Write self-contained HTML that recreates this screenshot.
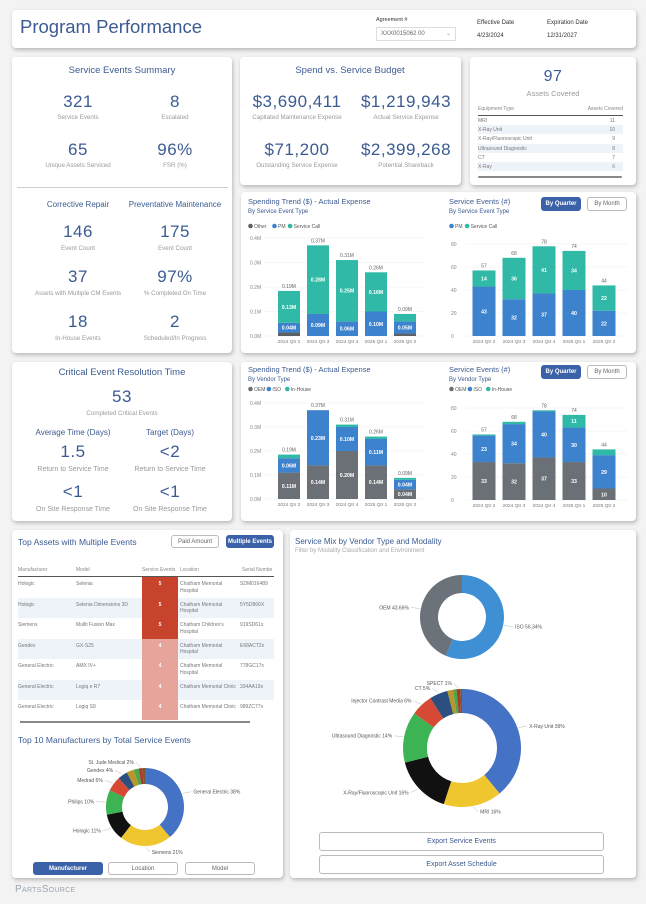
<!DOCTYPE html>
<html><head><meta charset="utf-8"><style>
*{box-sizing:border-box;margin:0;padding:0}
body{width:646px;height:904px;background:#f3f3f3;font-family:"Liberation Sans",sans-serif;position:relative;overflow:hidden;color:#555}
.card{position:absolute;background:#fff;border-radius:4px;box-shadow:1px 2px 4px rgba(0,0,0,.25)}
.t{position:absolute;white-space:nowrap}
.c{transform:translateX(-50%);text-align:center}
.big{font-size:17px;color:#3b5b92;letter-spacing:.5px}
.lbl{font-size:6.2px;color:#9a9a9a}
.hd{font-size:9.5px;color:#3b5b92}
.sub{font-size:8px;color:#3b5b92}
.btn{position:absolute;border:1px solid #bbb;border-radius:3px;font-size:6px;text-align:center;background:#fff;color:#666}
.btn.on{background:#3b62a8;color:#fff;border-color:#3b62a8;font-weight:bold}
svg{position:absolute;left:0;top:0}
.row span{display:block;flex:none;overflow:hidden;white-space:normal;line-height:6.5px}
</style></head><body>
<div class="card" style="left:12px;top:10px;width:624px;height:38px"></div>
<div class="t" style="left:20px;top:16px;font-size:18.5px;color:#3b5b92">Program Performance</div>
<div class="t" style="left:376px;top:17px;font-size:5.5px;color:#333">Agreement #</div>
<div style="position:absolute;left:376px;top:27px;width:80px;height:14px;border:1px solid #ddd;font-size:6px;color:#666;padding:3px 0 0 4px">XXX0015062 00<span style="position:absolute;right:4px;top:2px;color:#999">⌄</span></div>
<div class="t" style="left:477px;top:20px;font-size:6px;color:#333">Effective Date</div>
<div class="t" style="left:477px;top:33px;font-size:6px;color:#333">4/23/2024</div>
<div class="t" style="left:547px;top:20px;font-size:6px;color:#333">Expiration Date</div>
<div class="t" style="left:547px;top:33px;font-size:6px;color:#333">12/31/2027</div>

<div class="card" style="left:12px;top:57px;width:220px;height:296px"></div>
<div class="t c hd" style="left:122px;top:65px">Service Events Summary</div>
<div class="t c big" style="left:78px;top:92px">321</div>
<div class="t c lbl" style="left:78px;top:114px">Service Events</div>
<div class="t c big" style="left:175px;top:92px">8</div>
<div class="t c lbl" style="left:175px;top:114px">Escalated</div>
<div class="t c big" style="left:78px;top:140px">65</div>
<div class="t c lbl" style="left:78px;top:162px">Unique Assets Serviced</div>
<div class="t c big" style="left:175px;top:140px">96%</div>
<div class="t c lbl" style="left:175px;top:162px">FSR (%)</div>
<div style="position:absolute;left:17px;top:187px;width:211px;height:1px;background:#ccc"></div>
<div class="t c sub" style="left:78px;top:200px">Corrective Repair</div>
<div class="t c sub" style="left:175px;top:200px">Preventative Maintenance</div>
<div class="t c big" style="left:78px;top:222px">146</div>
<div class="t c lbl" style="left:78px;top:245px">Event Count</div>
<div class="t c big" style="left:175px;top:222px">175</div>
<div class="t c lbl" style="left:175px;top:245px">Event Count</div>
<div class="t c big" style="left:78px;top:267px">37</div>
<div class="t c lbl" style="left:78px;top:290px">Assets with Multiple CM Events</div>
<div class="t c big" style="left:175px;top:267px">97%</div>
<div class="t c lbl" style="left:175px;top:290px">% Completed On Time</div>
<div class="t c big" style="left:78px;top:312px">18</div>
<div class="t c lbl" style="left:78px;top:335px">In-House Events</div>
<div class="t c big" style="left:175px;top:312px">2</div>
<div class="t c lbl" style="left:175px;top:335px">Scheduled/In Progress</div>

<div class="card" style="left:240px;top:57px;width:221px;height:128px"></div>
<div class="t c hd" style="left:350px;top:65px">Spend vs. Service Budget</div>
<div class="t c big" style="left:297px;top:92px">$3,690,411</div>
<div class="t c lbl" style="left:297px;top:114px">Capitated Maintenance Expense</div>
<div class="t c big" style="left:406px;top:92px">$1,219,943</div>
<div class="t c lbl" style="left:406px;top:114px">Actual Service Expense</div>
<div class="t c big" style="left:297px;top:140px">$71,200</div>
<div class="t c lbl" style="left:297px;top:162px">Outstanding Service Expense</div>
<div class="t c big" style="left:406px;top:140px">$2,399,268</div>
<div class="t c lbl" style="left:406px;top:162px">Potential Shareback</div>

<div class="card" style="left:470px;top:57px;width:166px;height:128px"></div>
<div class="t c big" style="left:553px;top:68px;font-size:16px">97</div>
<div class="t c" style="left:553px;top:89px;font-size:7.5px;color:#999">Assets Covered</div>
<div id="assetTable" style="position:absolute;left:478px;top:106px;width:145px"></div>
<div style="position:absolute;left:478px;top:176px;width:144px;height:2px;background:#888;border-radius:1px"></div>

<div class="card" style="left:241px;top:192px;width:395px;height:161px"></div>
<div class="card" style="left:241px;top:362px;width:395px;height:159px"></div>
<div class="card" style="left:12px;top:362px;width:220px;height:159px"></div>
<div class="t c hd" style="left:122px;top:367px">Critical Event Resolution Time</div>
<div class="t c big" style="left:122px;top:387px">53</div>
<div class="t c lbl" style="left:122px;top:410px">Completed Critical Events</div>
<div class="t c sub" style="left:73px;top:428px">Average Time (Days)</div>
<div class="t c sub" style="left:170px;top:428px">Target (Days)</div>
<div class="t c big" style="left:73px;top:442px">1.5</div>
<div class="t c" style="left:73px;top:466px;font-size:7px;color:#999">Return to Service Time</div>
<div class="t c big" style="left:170px;top:442px">&lt;2</div>
<div class="t c" style="left:170px;top:466px;font-size:7px;color:#999">Return to Service Time</div>
<div class="t c big" style="left:73px;top:482px">&lt;1</div>
<div class="t c" style="left:73px;top:506px;font-size:7px;color:#999">On Site Response Time</div>
<div class="t c big" style="left:170px;top:482px">&lt;1</div>
<div class="t c" style="left:170px;top:506px;font-size:7px;color:#999">On Site Response Time</div>

<div class="btn on" style="left:541px;top:197px;width:40px;height:14px;padding-top:3px">By Quarter</div>
<div class="btn" style="left:587px;top:197px;width:40px;height:14px;padding-top:3px">By Month</div>
<div class="btn on" style="left:541px;top:365px;width:40px;height:14px;padding-top:3px">By Quarter</div>
<div class="btn" style="left:587px;top:365px;width:40px;height:14px;padding-top:3px">By Month</div>

<div class="card" style="left:12px;top:530px;width:271px;height:348px"></div>
<div class="t" style="left:18px;top:537px;font-size:8.5px;color:#3b5b92">Top Assets with Multiple Events</div>
<div class="btn" style="left:171px;top:535px;width:48px;height:13px;padding-top:3px">Paid Amount</div>
<div class="btn on" style="left:226px;top:535px;width:48px;height:13px;padding-top:3px">Multiple Events</div>
<div id="topTable" style="position:absolute;left:18px;top:563px;width:256px;height:157px;overflow:hidden"></div>
<div style="position:absolute;left:20px;top:721px;width:230px;height:2px;background:#888"></div>
<div class="t" style="left:18px;top:735px;font-size:8.5px;color:#3b5b92">Top 10 Manufacturers by Total Service Events</div>
<div class="btn on" style="left:33px;top:862px;width:70px;height:13px;padding-top:3px">Manufacturer</div>
<div class="btn" style="left:108px;top:862px;width:70px;height:13px;padding-top:3px">Location</div>
<div class="btn" style="left:185px;top:862px;width:70px;height:13px;padding-top:3px">Model</div>

<div class="card" style="left:290px;top:530px;width:346px;height:348px"></div>
<div class="t" style="left:295px;top:537px;font-size:8px;color:#3b5b92">Service Mix by Vendor Type and Modality</div>
<div class="t" style="left:295px;top:548px;font-size:6px;color:#aaa">Filter by Modality Classification and Environment</div>
<div class="btn" style="left:319px;top:832px;width:285px;height:19px;padding-top:5px;font-size:7px;color:#3b5b92">Export Service Events</div>
<div class="btn" style="left:319px;top:855px;width:285px;height:19px;padding-top:5px;font-size:7px;color:#3b5b92">Export Asset Schedule</div>
<div class="t" style="left:15px;top:884px;font-size:10px;color:#9aa3ad;font-variant:small-caps;letter-spacing:.3px">PartsSource</div>

<svg id="svg" width="646" height="904"></svg>

<script>
// ---- Chart data ----
const quarters = ["2024 Qtr 2","2024 Qtr 3","2024 Qtr 4","2025 Qtr 1","2025 Qtr 2"];
const spendOther = [0.014,0,0,0,0.01];
const spendPM = [0.04,0.09,0.06,0.10,0.05];
const spendSC = [0.13,0.28,0.25,0.16,0.03];
const spendTotalLabels = ["0.19M","0.37M","0.31M","0.26M","0.09M"];
const eventsPM = [43,32,37,40,22];
const eventsSC = [14,36,41,34,22];
const eventsTotalLabels = ["57","68","78","74","44"];
const vSpendOEM = [0.11,0.14,0.20,0.14,0.04];
const vSpendISO = [0.06,0.23,0.10,0.11,0.04];
const vSpendIH = [0.015,0,0.01,0.01,0.008];
const vEventsOEM = [33,32,37,33,10];
const vEventsISO = [23,34,40,30,29];
const vEventsIH = [1,2,1,11,5];
const spendTicks = [0,0.1,0.2,0.3,0.4];
const eventTicks = [0,20,40,60,80];
const vendorShare = [43.66,56.34];
const vendorNames = ["OEM","ISO"];
const modalityNames = ["X-Ray Unit","MRI","X-Ray/Fluoroscopic Unit","Ultrasound Diagnostic","Injector Contrast Media","CT","Other A","Other B","SPECT","Other C"];
const modalityShare = [39,16,16,14,6,5,1.5,1,1,0.5];
const mfrNames = ["General Electric","Siemens","Hologic","Philips","Medrad","Gendex","Other A","Other B","St. Jude Medical","Other C"];
const mfrShare = [38,21,11,10,6,4,3,2,1.5,1];
const assetTypes = ["MRI","X-Ray Unit","X-Ray/Fluoroscopic Unit","Ultrasound Diagnostic","CT","X-Ray"];
const assetCounts = [11,10,9,8,7,6];
const topMfr = ["Hologic","Hologic","Siemens","Gendex","General Electric","General Electric","General Electric","General Electric"];
const topModel = ["Selenia","Selenia Dimensions 3D","Mullti Fusion Max","GX-S25","AMX IV+","Logiq e R7","Logiq S9","Optima XR240AMX"];
const topEvents = [5,5,5,4,4,4,4,4];
const topLoc = ["Chatham Memorial Hospital","Chatham Memorial Hospital","Chatham Children's Hospital","Chatham Memorial Hospital","Chatham Memorial Hospital","Chatham Memorial Clinic","Chatham Memorial Clinic","Chatham Children's Hospital"];
const topSerial = ["SDM016489","5Y5D866X","919SD61x","E68ACT2x","778GC17x","334AA19x","989ZC77x","889FF19x"];

const NS="http://www.w3.org/2000/svg";
const svg=document.getElementById('svg');
function el(tag,attrs,parent){const e=document.createElementNS(NS,tag);for(const k in attrs)e.setAttribute(k,attrs[k]);(parent||svg).appendChild(e);return e;}
function txt(x,y,s,size,fill,anchor,parent,weight){const e=el('text',{x:x,y:y,'font-size':size,fill:fill,'text-anchor':anchor||'start','font-family':'Liberation Sans, sans-serif'},parent);if(weight)e.setAttribute('font-weight',weight);e.textContent=s;return e;}

function stacked(opt){
  const g=el('g',{});
  
  
  const y=v=>opt.y0-(v/opt.max)*(opt.y0-opt.y1);
  txt(opt.tx,opt.ty,opt.title,7.5,'#3b5b92','start',g);
  txt(opt.tx,opt.ty+9,opt.subtitle,6,'#3b5b92','start',g);
  let lx=opt.tx;
  opt.legend.forEach((n,i)=>{el('circle',{cx:lx+2.5,cy:opt.ly-2,r:2.3,fill:opt.colors[i]},g);txt(lx+6,opt.ly,n,5,'#555','start',g);lx+=n.length*2.8+10;});
  opt.ticks.forEach(t=>{const yy=y(t);el('line',{x1:opt.ax+14,x2:opt.right,y1:yy,y2:yy,stroke:'#eee','stroke-width':0.5},g);txt(opt.ax,yy+2,opt.fmt(t),5,'#888','start',g);});
  quarters.forEach((q,i)=>{
    const cx=opt.x0+i*opt.step;let acc=0;
    opt.series.forEach((s,k)=>{
      const v=s[i];if(v<=0)return;
      const r=el('rect',{x:cx-opt.bw/2,y:y(acc+v),width:opt.bw,height:y(acc)-y(acc+v),fill:opt.colors[k]},g);
      
      
      if(opt.valLabel[k]&&(y(acc)-y(acc+v))>8)txt(cx,(y(acc)+y(acc+v))/2+2,opt.valLabel[k](v),5.2,'#fff','middle',g,'bold');
      acc+=v;
    });
    txt(cx,y(acc)-3,opt.totals[i],5,'#666','middle',g);
    txt(cx,opt.y0+7,q,4.8,'#777','middle',g);
  });
}
const fM=v=>v.toFixed(2)+'M', fT=t=>t.toFixed(1)+'M', fI=v=>String(v);
stacked({name:'spending-by-event-type-chart',title:'Spending Trend ($) - Actual Expense',subtitle:'By Service Event Type',tx:248,ty:204,ly:228,legend:['Other','PM','Service Call'],colors:['#5c6166','#3d82cc','#2fb9a6'],series:[spendOther,spendPM,spendSC],valLabel:[null,fM,fM],totals:spendTotalLabels,ticks:spendTicks,max:0.4,fmt:fT,y0:336,y1:238,ax:250,right:425,x0:289,step:29,bw:22});
stacked({name:'events-by-event-type-chart',title:'Service Events (#)',subtitle:'By Service Event Type',tx:449,ty:204,ly:228,legend:['PM','Service Call'],colors:['#3d82cc','#2fb9a6'],series:[eventsPM,eventsSC],valLabel:[fI,fI],totals:eventsTotalLabels,ticks:eventTicks,max:80,fmt:fI,y0:336,y1:244,ax:451,right:628,x0:484,step:30,bw:23});
stacked({name:'spending-by-vendor-chart',title:'Spending Trend ($) - Actual Expense',subtitle:'By Vendor Type',tx:248,ty:372,ly:391,legend:['OEM','ISO','In-House'],colors:['#6b7076','#3d82cc','#2fb9a6'],series:[vSpendOEM,vSpendISO,vSpendIH],valLabel:[fM,fM,null],totals:spendTotalLabels,ticks:spendTicks,max:0.4,fmt:fT,y0:499,y1:403,ax:250,right:425,x0:289,step:29,bw:22});
stacked({name:'events-by-vendor-chart',title:'Service Events (#)',subtitle:'By Vendor Type',tx:449,ty:372,ly:391,legend:['OEM','ISO','In-House'],colors:['#6b7076','#3d82cc','#2fb9a6'],series:[vEventsOEM,vEventsISO,vEventsIH],valLabel:[fI,fI,fI],totals:eventsTotalLabels,ticks:eventTicks,max:80,fmt:fI,y0:500,y1:408,ax:451,right:628,x0:484,step:30,bw:23});

function donut(name,cx,cy,R,r,vals,colors,labels){
  const g=el('g',{});
  
  
  const tot=vals.reduce((a,b)=>a+b,0);let a0=-Math.PI/2;
  vals.forEach((v,i)=>{
    const a1=a0+v/tot*2*Math.PI;const lg=(a1-a0)>Math.PI?1:0;
    const p=(rad,a)=>[cx+rad*Math.cos(a),cy+rad*Math.sin(a)];
    const [x1,y1]=p(R,a0),[x2,y2]=p(R,a1),[x3,y3]=p(r,a1),[x4,y4]=p(r,a0);
    const s=el('path',{d:`M${x1},${y1}A${R},${R} 0 ${lg} 1 ${x2},${y2}L${x3},${y3}A${r},${r} 0 ${lg} 0 ${x4},${y4}Z`,fill:colors[i]},g);
    
    
    if(labels[i]){const am=(a0+a1)/2;const [lx,ly]=p(R+6,am);const right=Math.cos(am)>=0;
      el('line',{x1:p(R+1,am)[0],y1:p(R+1,am)[1],x2:lx+(right?4:-4),y2:ly,stroke:'#bbb','stroke-width':0.5},g);
      txt(lx+(right?6:-6),ly+1.8,labels[i],5,'#555',right?'start':'end',g);}
    a0=a1;
  });
}
donut('vendor-donut',462,617,42,24,[vendorShare[1],vendorShare[0]],['#3f8fd4','#6b7279'],[vendorNames[1]+' '+vendorShare[1]+'%',vendorNames[0]+' '+vendorShare[0]+'%']);
const modCols=['#4472c4','#f0c62e','#111','#3cb454','#d64a35','#2c4f80','#b8962a','#4aa84a','#a8392b','#7a5a2a'];
donut('modality-donut',462,748,59,35,modalityShare,modCols,modalityShare.map((v,i)=>modalityNames[i].startsWith('Other')?'':modalityNames[i]+' '+v+'%'));
const mfrCols=['#4472c4','#f0c62e','#111','#3cb454','#d64a35','#2c4f80','#b8962a','#4aa84a','#a8392b','#7a5a2a'];
donut('manufacturer-donut',145,807,39,23,mfrShare,mfrCols,mfrShare.map((v,i)=>mfrNames[i].startsWith('Other')?'':mfrNames[i]+' '+Math.round(v)+'%'));

// asset type table
let h='<div style="display:flex;justify-content:space-between;font-size:5px;color:#888;border-bottom:1px solid #555;padding-bottom:3px"><span>Equipment Type</span><span>Assets Covered</span></div>';
assetTypes.forEach((t,i)=>{h+=`<div style="display:flex;justify-content:space-between;font-size:5px;color:#777;height:9.2px;padding:2px 8px 0 0;background:${i%2?'#eef3fa':'#fff'}"><span>${t}</span><span>${assetCounts[i]}</span></div>`;});
document.getElementById('assetTable').innerHTML=h;
// top assets table
let th='<div style="display:flex;font-size:5px;color:#888;border-bottom:1px solid #555;height:14px;padding-top:4px"><span style="width:58px">Manufacturer</span><span style="width:66px">Model</span><span style="width:38px">Service Events</span><span style="width:62px">Location</span><span>Serial Numbe</span></div>';
topMfr.forEach((m,i)=>{const bg=topEvents[i]>=5?'#c8432c':'#e6a49a';
th+=`<div class="row" style="display:flex;font-size:5px;color:#777;height:20.5px;background:${i%2?'#eef3fa':'#fff'}"><span style="width:58px;padding-top:4px">${m}</span><span style="width:66px;padding-top:4px">${topModel[i]}</span><span style="width:36px;margin-right:2px;background:${bg};color:#fff;text-align:center;padding-top:4px;font-weight:bold">${topEvents[i]}</span><span style="width:60px;padding-top:4px">${topLoc[i]}</span><span style="width:34px;padding-top:4px">${topSerial[i]}</span></div>`;});
document.getElementById('topTable').innerHTML=th;
</script>
</body></html>
